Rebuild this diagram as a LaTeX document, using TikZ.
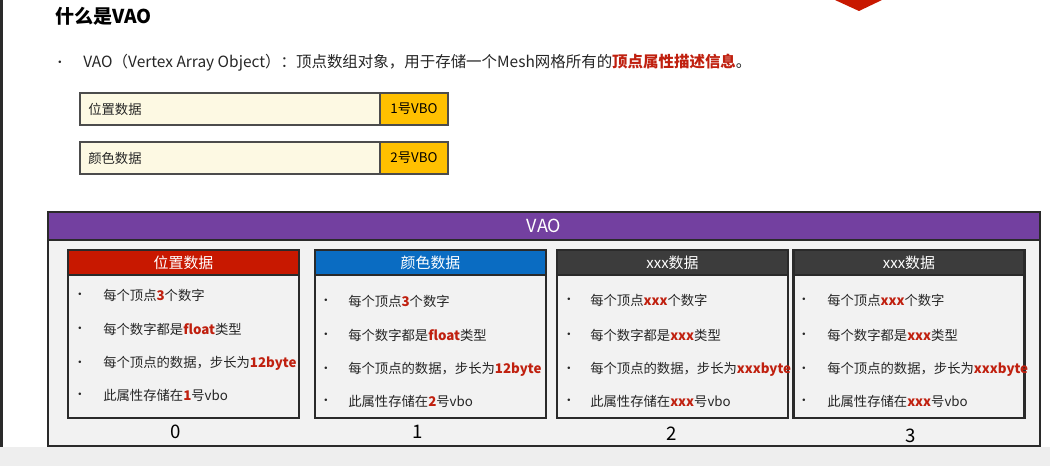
\documentclass[tikz,border=0pt]{standalone}
\usepackage{fontspec}
\setmainfont{Noto Sans CJK SC}
\newfontfamily\bulfont{DejaVu Sans}
\definecolor{tred}{HTML}{C0200F}
\definecolor{hred}{HTML}{C81800}
\definecolor{hblue}{HTML}{0A6CC2}
\definecolor{hdark}{HTML}{3C3C3C}
\definecolor{vpurple}{HTML}{7340A0}
\definecolor{cream}{HTML}{FDF9E3}
\definecolor{vorange}{HTML}{FFC000}
\definecolor{bodygray}{HTML}{F2F2F2}
\definecolor{bandgray}{HTML}{EEEEEE}
\definecolor{edge}{HTML}{2A2A2A}
\tikzset{
  txt/.style={inner sep=0pt, anchor=west, text=black!85, font=\fontsize{10}{12}\selectfont},
  bul/.style={inner sep=0pt, text=black!85, font=\bulfont\fontsize{6.5}{8}\selectfont},
  cardbox/.style={draw=edge, line width=1.6pt, fill=bodygray, inner sep=0pt},
  cardhead/.style={draw=edge, line width=1.6pt, inner sep=0pt},
  headtxt/.style={text=white, font=\fontsize{11.2}{13}\selectfont, inner sep=0pt},
  numtxt/.style={text=black, font=\fontsize{14}{16}\selectfont, inner sep=0pt},
  ybox/.style={draw=black!70, line width=1.2pt, fill=cream, inner sep=0pt, minimum height=24pt},
  obox/.style={draw=black!70, line width=1.2pt, fill=vorange, inner sep=0pt, minimum height=24pt, minimum width=51pt,
    font=\fontsize{10}{12}\selectfont},
}
\newcommand{\R}[1]{\textcolor{tred}{\bfseries #1}}
\begin{document}
\begin{tikzpicture}[x=0.75pt,y=-0.75pt]
\useasboundingbox (0,0) rectangle (1050,466);
\fill[white] (0,0) rectangle (1050,466);
\fill[bandgray] (0,447) rectangle (1050,466);
\fill[edge] (0,0) rectangle (3,447);
\fill[hred] (835,0) -- (882,0) -- (859,11) -- cycle;

% title and intro
\node[inner sep=0pt, anchor=west, font=\bfseries\fontsize{14.3}{16}\selectfont] (title) at (55,16) {什么是VAO};
\node[bul] (ib) at (60,63) {•};
\node[txt, font=\fontsize{11.6}{14}\selectfont] (intro) at (83,63) {VAO（Vertex Array Object）：顶点数组对象，用于存储一个Mesh网格所有的\R{顶点属性描述信息}。};

% VBO boxes
\node[ybox, minimum width=225pt] (pos) at (230,109) {};
\node[obox] (vbo1) at (414,109) {1号VBO};
\node[txt] (posl) at (88,109) {位置数据};
\node[ybox, minimum width=225pt] (col) at (230,158) {};
\node[obox] (vbo2) at (414,158) {2号VBO};
\node[txt] (coll) at (88,158) {颜色数据};

% VAO container
\node[draw=edge, line width=1.6pt, fill=bodygray, minimum width=744pt, minimum height=175.5pt, inner sep=0pt] (vao) at (544,329) {};
\node[draw=edge, line width=1.6pt, fill=vpurple, minimum width=744pt, minimum height=21pt, inner sep=0pt] (vaoh) at (544,226) {};
\node[text=white, font=\fontsize{13.5}{16}\selectfont, inner sep=0pt] (vaot) at (544,226) {VAO};

% cards
\foreach \n/\cx/\hc/\ttl in {0/183.5/hred/位置数据, 1/430.5/hblue/颜色数据, 2/672.5/hdark/xxx数据, 3/909/hdark/xxx数据}{
  \node[cardbox, minimum width=173.25pt, minimum height=126pt] (c\n) at (\cx,334) {};
  \node[cardhead, fill=\hc, minimum width=173.25pt, minimum height=18.75pt] (h\n) at (\cx,262.5) {};
  \node[headtxt] (ht\n) at (\cx,263) {\ttl};
}

% card 0
\node[bul] (b01) at (80,295) {•};  \node[txt] (t01) at (103,295) {每个顶点\R{3}个数字};
\node[bul] (b02) at (80,329) {•};  \node[txt] (t02) at (103,329) {每个数字都是\R{float}类型};
\node[bul] (b03) at (80,363) {•};  \node[txt] (t03) at (103,363) {每个顶点的数据，步长为\R{12byte}};
\node[bul] (b04) at (80,395) {•};  \node[txt] (t04) at (103,395) {此属性存储在\R{1}号vbo};
% card 1
\node[bul] (b11) at (326,301) {•}; \node[txt] (t11) at (348,301) {每个顶点\R{3}个数字};
\node[bul] (b12) at (326,335) {•}; \node[txt] (t12) at (348,335) {每个数字都是\R{float}类型};
\node[bul] (b13) at (326,369) {•}; \node[txt] (t13) at (348,369) {每个顶点的数据，步长为\R{12byte}};
\node[bul] (b14) at (326,401) {•}; \node[txt] (t14) at (348,401) {此属性存储在\R{2}号vbo};
% card 2
\node[bul] (b21) at (569,300) {•}; \node[txt] (t21) at (590,300) {每个顶点\R{xxx}个数字};
\node[bul] (b22) at (569,335) {•}; \node[txt] (t22) at (590,335) {每个数字都是\R{xxx}类型};
\node[bul] (b23) at (569,369) {•}; \node[txt] (t23) at (590,369) {每个顶点的数据，步长为\R{xxxbyte}};
\node[bul] (b24) at (569,401) {•}; \node[txt] (t24) at (590,401) {此属性存储在\R{xxx}号vbo};
% card 3
\node[bul] (b31) at (804,300) {•}; \node[txt] (t31) at (827,300) {每个顶点\R{xxx}个数字};
\node[bul] (b32) at (804,335) {•}; \node[txt] (t32) at (827,335) {每个数字都是\R{xxx}类型};
\node[bul] (b33) at (804,369) {•}; \node[txt] (t33) at (827,369) {每个顶点的数据，步长为\R{xxxbyte}};
\node[bul] (b34) at (804,401) {•}; \node[txt] (t34) at (827,401) {此属性存储在\R{xxx}号vbo};

% index numbers
\node[numtxt] (n0) at (176,432) {0};
\node[numtxt] (n1) at (418,432) {1};
\node[numtxt] (n2) at (672,434) {2};
\node[numtxt] (n3) at (911,436) {3};
\end{tikzpicture}
\end{document}
